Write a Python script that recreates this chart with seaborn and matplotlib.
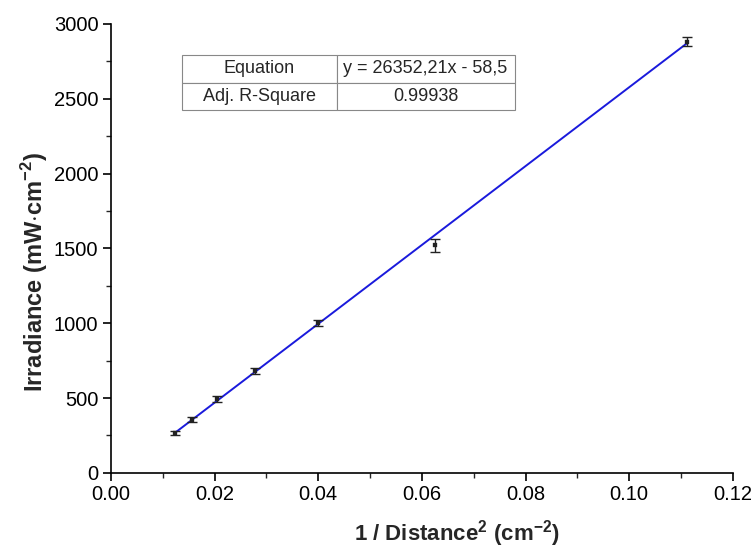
import numpy as np
import pandas as pd
import matplotlib
matplotlib.use("Agg")
import matplotlib.pyplot as plt
import seaborn as sns
from matplotlib.ticker import MultipleLocator, FormatStrFormatter

# Measured irradiance vs. inverse squared distance (d = 9 ... 3 cm)
inv_dist_sq = [1/81, 1/64, 1/49, 1/36, 1/25, 1/16, 1/9]
irradiance = [268, 355, 495, 680, 1000, 1520, 2880]
irradiance_err = [12, 18, 20, 18, 22, 45, 30]

# Linear fit parameters
slope = 26352.21
intercept = -58.5
adj_r2 = "0.99938"

sns.set_theme(style="ticks")
plt.rcParams["font.family"] = ["Liberation Sans", "DejaVu Sans"]
plt.rcParams["mathtext.fontset"] = "custom"
plt.rcParams["mathtext.rm"] = "Liberation Sans"
plt.rcParams["mathtext.bf"] = "Liberation Sans:bold"

fig, ax = plt.subplots(figsize=(7.54, 5.55), dpi=100)
fig.subplots_adjust(left=0.147, right=0.972, bottom=0.148, top=0.957)

df = pd.DataFrame({"x": inv_dist_sq, "y": irradiance, "err": irradiance_err})
x_fit = np.array([min(inv_dist_sq), max(inv_dist_sq)])
fit = pd.DataFrame({"x": x_fit, "y": slope * x_fit + intercept})

sns.lineplot(data=fit, x="x", y="y", ax=ax, color="#1a1adc", lw=1.4, zorder=2)
ax.errorbar(df["x"], df["y"], yerr=df["err"], fmt="none", ecolor="#222222",
            elinewidth=1.0, capsize=3.5, capthick=1.0, zorder=3)
sns.scatterplot(data=df, x="x", y="y", ax=ax, marker="s", s=8, color="#222222",
                edgecolor="#222222", zorder=4)

ax.set_xlim(0, 0.12)
ax.set_ylim(0, 3000)
ax.xaxis.set_major_locator(MultipleLocator(0.02))
ax.xaxis.set_minor_locator(MultipleLocator(0.01))
ax.yaxis.set_major_locator(MultipleLocator(500))
ax.yaxis.set_minor_locator(MultipleLocator(250))
ax.xaxis.set_major_formatter(FormatStrFormatter("%.2f"))

ax.tick_params(axis="both", which="major", direction="out", length=6, width=1.2,
               labelsize=14.5, colors="black", pad=3)
ax.tick_params(axis="both", which="minor", direction="out", length=3.5, width=1.0)
for side in ("left", "bottom"):
    ax.spines[side].set_linewidth(1.2)
    ax.spines[side].set_color("black")
sns.despine(ax=ax)

ax.set_xlabel(r"1 / Distance$^{\mathbf{2}}$ (cm$^{\mathbf{-2}}$)", fontsize=16,
              fontweight="bold")
ax.set_ylabel(r"Irradiance (mW$\cdot$cm$^{\mathbf{-2}}$)", fontsize=17,
              fontweight="bold")
ax.xaxis.set_label_coords(0.556, -0.1)
ax.yaxis.set_label_coords(-0.097, 0.448)

eq_text = f"y = {slope:.2f}x - {abs(intercept)}".replace(".", ",")
tbl = ax.table(cellText=[["Equation", eq_text], ["Adj. R-Square", adj_r2]],
               cellLoc="center", colWidths=[0.465, 0.535],
               bbox=[0.114, 0.808, 0.535, 0.1225])
tbl.auto_set_font_size(False)
for (r, c), cell in tbl.get_celld().items():
    cell.set_fontsize(13)
    cell.set_edgecolor("#888888")
    cell.set_linewidth(0.8)
    cell.set_facecolor("white")

fig.savefig("out.png", dpi=100)
